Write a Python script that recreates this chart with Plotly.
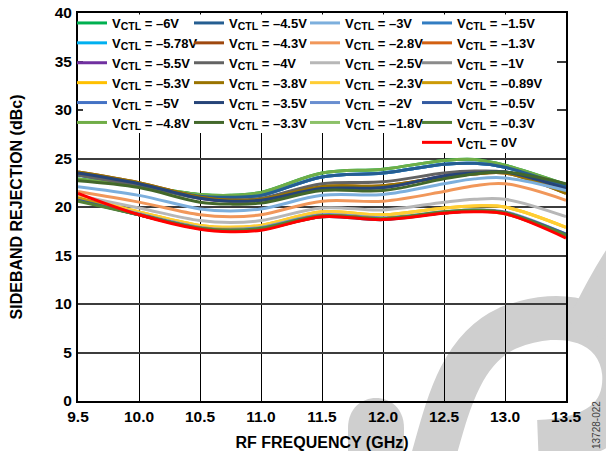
import plotly.graph_objects as go

# ---------------- data ----------------
FREQ_GHZ = [9.5, 10.0, 10.5, 10.75, 11.0, 11.5, 12.0, 12.5, 12.75, 13.0, 13.5]

VCTL_LABELS = ["–6V", "–5.78V", "–5.5V", "–5.3V", "–5V", "–4.8V",
               "–4.5V", "–4.3V", "–4V", "–3.8V", "–3.5V", "–3.3V",
               "–3V", "–2.8V", "–2.5V", "–2.3V", "–2V", "–1.8V",
               "–1.5V", "–1.3V", "–1V", "–0.89V", "–0.5V", "–0.3V", "0V"]

SBR_M6V    = [22.9, 22.2, 21.3, 21.2, 21.5, 23.5, 23.9, 24.8, 24.9, 24.3, 22.3]
SBR_M5P78V = [23.3, 22.3, 21.1, 21.0, 21.2, 23.1, 23.5, 24.4, 24.5, 24.1, 22.1]
SBR_M5P5V  = [23.5, 22.4, 20.9, 20.6, 20.7, 21.9, 22.0, 23.2, 23.5, 23.6, 21.9]
SBR_M5P3V  = [21.0, 19.5, 18.1, 17.9, 18.1, 19.5, 19.2, 19.9, 20.1, 20.0, 17.9]
SBR_M5V    = [23.3, 22.3, 21.1, 21.0, 21.2, 23.1, 23.5, 24.4, 24.5, 24.1, 22.1]
SBR_M4P8V  = [22.9, 22.2, 21.3, 21.2, 21.5, 23.5, 23.9, 24.8, 24.9, 24.3, 22.3]
SBR_M4P5V  = [23.3, 22.3, 21.1, 21.0, 21.2, 23.1, 23.5, 24.4, 24.5, 24.1, 22.1]
SBR_M4P3V  = [23.6, 22.5, 21.0, 20.7, 20.8, 22.1, 22.2, 23.1, 23.4, 23.5, 21.4]
SBR_M4V    = [23.3, 22.2, 20.9, 20.7, 20.9, 22.4, 22.6, 23.5, 23.7, 23.6, 21.8]
SBR_M3P8V  = [23.6, 22.5, 21.0, 20.7, 20.8, 22.1, 22.2, 23.1, 23.4, 23.5, 21.4]
SBR_M3P5V  = [23.5, 22.4, 20.9, 20.6, 20.7, 21.9, 22.0, 23.2, 23.5, 23.6, 21.9]
SBR_M3P3V  = [22.7, 22.0, 20.5, 20.3, 20.4, 21.7, 21.7, 22.9, 23.4, 23.6, 22.4]
SBR_M3V    = [22.1, 21.2, 19.8, 19.6, 19.8, 21.2, 21.3, 22.4, 22.9, 23.0, 21.7]
SBR_M2P8V  = [21.6, 20.5, 19.2, 19.0, 19.2, 20.6, 20.6, 21.6, 22.2, 22.4, 20.7]
SBR_M2P5V  = [21.2, 19.9, 18.6, 18.4, 18.6, 19.9, 19.7, 20.5, 20.8, 20.8, 19.0]
SBR_M2P3V  = [21.0, 19.5, 18.1, 17.9, 18.1, 19.5, 19.2, 19.9, 20.1, 20.0, 17.9]
SBR_M2V    = [20.9, 19.3, 17.9, 17.7, 17.9, 19.2, 18.9, 19.5, 19.7, 19.5, 17.2]
SBR_M1P8V  = [20.7, 19.2, 17.8, 17.6, 17.8, 19.1, 18.8, 19.4, 19.6, 19.4, 17.1]
SBR_M1P5V  = [20.8, 19.2, 17.8, 17.6, 17.8, 19.1, 18.8, 19.4, 19.6, 19.4, 17.1]
SBR_M1P3V  = [20.9, 19.2, 17.8, 17.6, 17.7, 19.1, 18.8, 19.4, 19.6, 19.4, 17.0]
SBR_M1V    = [20.8, 19.2, 17.8, 17.6, 17.7, 19.0, 18.8, 19.4, 19.6, 19.3, 17.0]
SBR_M0P89V = [20.9, 19.2, 17.8, 17.6, 17.7, 19.0, 18.8, 19.4, 19.6, 19.3, 17.0]
SBR_M0P5V  = [20.7, 19.2, 17.8, 17.5, 17.7, 19.0, 18.7, 19.4, 19.6, 19.4, 17.2]
SBR_M0P3V  = [20.6, 19.2, 17.8, 17.6, 17.8, 19.1, 18.8, 19.5, 19.7, 19.4, 17.1]
SBR_0V     = [21.4, 19.2, 17.7, 17.45, 17.6, 19.0, 18.7, 19.35, 19.5, 19.3, 16.8]

SERIES = [SBR_M6V, SBR_M5P78V, SBR_M5P5V, SBR_M5P3V, SBR_M5V, SBR_M4P8V,
          SBR_M4P5V, SBR_M4P3V, SBR_M4V, SBR_M3P8V, SBR_M3P5V, SBR_M3P3V,
          SBR_M3V, SBR_M2P8V, SBR_M2P5V, SBR_M2P3V, SBR_M2V, SBR_M1P8V,
          SBR_M1P5V, SBR_M1P3V, SBR_M1V, SBR_M0P89V, SBR_M0P5V, SBR_M0P3V, SBR_0V]

# ---------------- style ----------------
COLORS = ["#00B050", "#00B0F0", "#7030A0", "#FFC000", "#4472C4", "#70AD47",
          "#255E91", "#9E480E", "#636363", "#997300", "#264478", "#43682B",
          "#7CAFDD", "#F1975A", "#B7B7B7", "#FFCD33", "#698ED0", "#8CC168",
          "#327DC2", "#D26012", "#8B8B8B", "#CC9A06", "#335AA1", "#548235", "#FF0000"]
LEGEND_OF = (["legend"] * 6 + ["legend2"] * 6 + ["legend3"] * 6 + ["legend4"] * 7)

FONT = "Liberation Sans, Arial, Helvetica, sans-serif"
SUB = '<span style="baseline-shift:-22%;font-size:10.5px">CTL</span>'

fig = go.Figure()
for label, vals, col, lg in zip(VCTL_LABELS, SERIES, COLORS, LEGEND_OF):
    fig.add_trace(go.Scatter(
        x=FREQ_GHZ, y=vals, mode="lines", name=f"V{SUB} = {label}",
        line=dict(color=col, width=3, shape="spline", smoothing=1.0),
        legend=lg))

# plot area pixel geometry (for decoration placement)
L, R, T, B = 78, 40, 13, 50
W, H = 606, 451
PW, PH = W - L - R, H - T - B


def P(x, y):
    return f"{(x - L) / PW:.4f},{(H - B - y) / PH:.4f}"


WM = "#cfcfcf"
shapes = [
    dict(type="path", xref="paper", yref="paper", layer="below",
         path=f"M {P(428,475)} C {P(445,420)} {P(455,352)} {P(508,328)} "
              f"C {P(565,305)} {P(618,322)} {P(624,372)} C {P(628,420)} {P(592,440)} {P(538,442)}",
         line=dict(color=WM, width=44)),
    dict(type="path", xref="paper", yref="paper", layer="below",
         path=f"M {P(585,330)} C {P(600,300)} {P(610,280)} {P(630,250)}",
         line=dict(color=WM, width=40)),
    dict(type="path", xref="paper", yref="paper", layer="below",
         path=f"M {P(348,470)} L {P(348,428)} C {P(348,388)} {P(404,388)} {P(404,428)} L {P(404,470)} Z",
         fillcolor=WM, line=dict(width=0)),
    # white legend background
    dict(type="rect", xref="paper", yref="paper", layer="above",
         x0=(83 - L) / PW, x1=(557 - L) / PW, y0=(H - B - 133) / PH, y1=(H - B - 14.5) / PH,
         fillcolor="white", line=dict(width=0)),
    dict(type="rect", xref="paper", yref="paper", layer="above",
         x0=(436 - L) / PW, x1=(557 - L) / PW, y0=(H - B - 153) / PH, y1=(H - B - 125) / PH,
         fillcolor="white", line=dict(width=0)),
]

legend_font = dict(family=FONT, size=13, color="black", weight="bold")
leg_common = dict(xanchor="left", yanchor="top", bgcolor="rgba(0,0,0,0)", borderwidth=0,
                  font=legend_font, orientation="v", tracegroupgap=0, itemwidth=30)
text_x = [112, 229, 345, 457]
legend_top = 8
legs = {}
for i, name in enumerate(["legend", "legend2", "legend3", "legend4"]):
    legs[name] = dict(x=(text_x[i] - 40 - L) / PW, y=(H - B - legend_top) / PH, **leg_common)

fig.update_layout(
    width=W, height=H, autosize=False,
    margin=dict(l=L, r=R, t=T, b=B, autoexpand=False),
    paper_bgcolor="white", plot_bgcolor="rgba(0,0,0,0)",
    font=dict(family=FONT, color="black"),
    showlegend=True,
    shapes=shapes,
    **legs,
    xaxis=dict(range=[9.5, 13.5], dtick=0.5, tick0=9.5, tickformat=".1f",
               showgrid=True, gridcolor="black", gridwidth=1,
               showline=True, linecolor="black", linewidth=2, mirror=True,
               ticks="", zeroline=False, ticklabelstandoff=0, automargin=False,
               tickfont=dict(family=FONT, size=15.5, weight="bold", color="black"),
               title=dict(text="RF FREQUENCY (GHz)", standoff=16,
                          font=dict(family=FONT, size=16, weight="bold", color="black"))),
    yaxis=dict(range=[0, 40], dtick=5, tick0=0,
               showgrid=True, gridcolor="#3c3c3c", gridwidth=1.5,
               showline=True, linecolor="black", linewidth=2, mirror=True,
               ticks="", zeroline=False, ticklabelstandoff=1, automargin=False,
               tickfont=dict(family=FONT, size=15.5, weight="bold", color="black"),
               title=dict(text="SIDEBAND REJECTION (dBc)", standoff=28,
                          font=dict(family=FONT, size=16, weight="bold", color="black"))),
    annotations=[dict(text="13728-022", xref="paper", yref="paper",
                      x=(596 - L) / PW, y=(H - B - 425) / PH, showarrow=False,
                      textangle=-90, xanchor="center", yanchor="middle",
                      font=dict(family=FONT, size=10, color="#404040"))],
)

fig.write_html("out.html")
